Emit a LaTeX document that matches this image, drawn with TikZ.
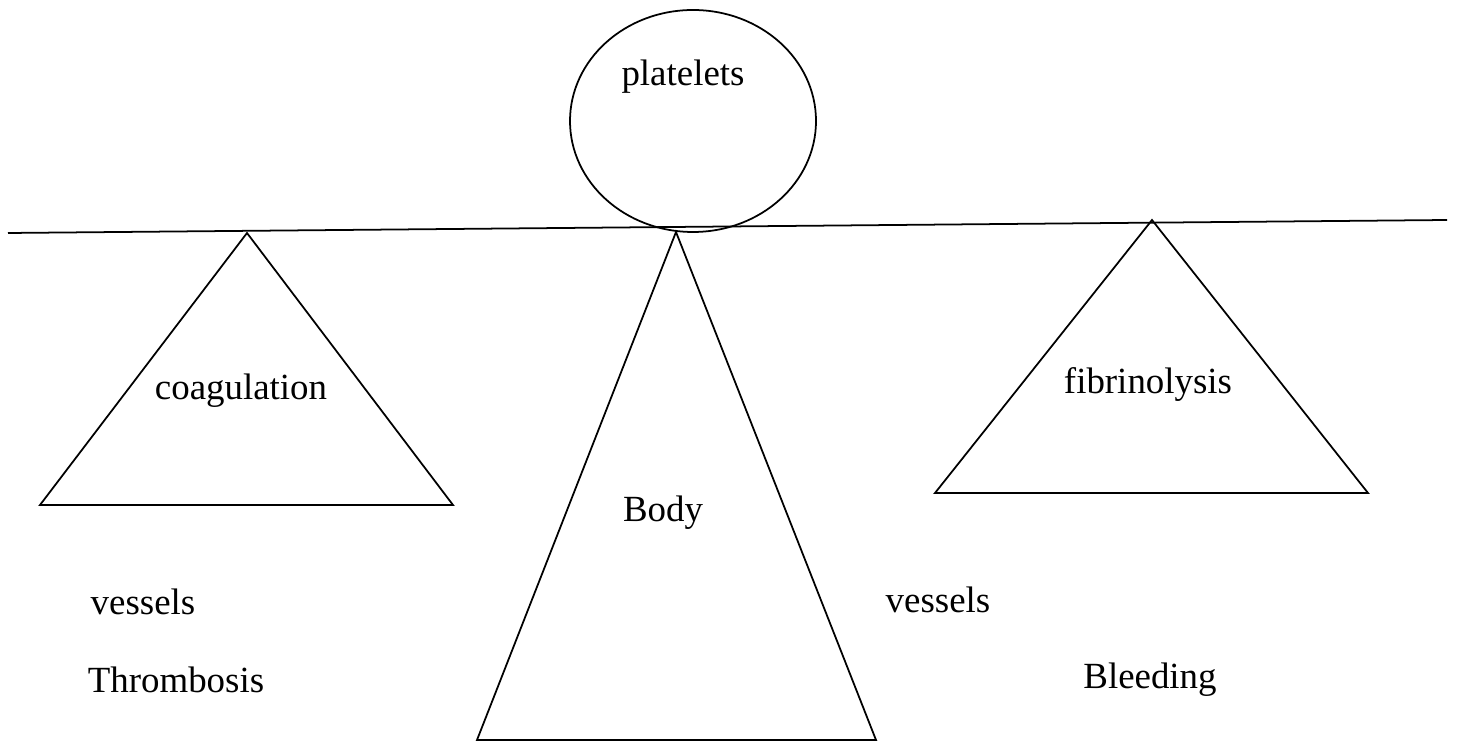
\documentclass[tikz,border=0pt]{standalone}
\usepackage{fontspec}
\setmainfont{Liberation Serif}
\usetikzlibrary{positioning}
\tikzset{
  shp/.style={draw=black,line width=1pt},
  lbl/.style={font=\fontsize{21}{25}\selectfont,inner sep=0pt},
}
\begin{document}
\begin{tikzpicture}[x=0.02cm,y=-0.02cm]
  \useasboundingbox (0,0) rectangle (1457,742);
  % beam and platelets
  \coordinate (beamL) at (8,233);
  \coordinate (beamR) at (1447,220);
  \draw[shp] (beamL) -- (beamR);
  \draw[shp] (693,121) ellipse [x radius=123,y radius=111];
  \node[lbl] (plt) at (683,77) {platelets};
  % triangles
  \draw[shp] (247,233) -- (40,505) -- (453,505) -- cycle;
  \draw[shp] (676,232) -- (477,740) -- (876,740) -- cycle;
  \draw[shp] (1152,220) -- (935,493) -- (1368,493) -- cycle;
  \node[lbl] (coag) at (241,391) {coagulation};
  \node[lbl] (body) at (663,513) {Body};
  \node[lbl] (fibr) at (1148,384) {fibrinolysis};
  % side labels
  \node[lbl] (vesL) at (143,602) {vessels};
  \node[lbl] (thro) at (176,680) {Thrombosis};
  \node[lbl] (vesR) at (938,600) {vessels};
  \node[lbl] (blee) at (1150,680) {Bleeding};
\end{tikzpicture}
\end{document}
